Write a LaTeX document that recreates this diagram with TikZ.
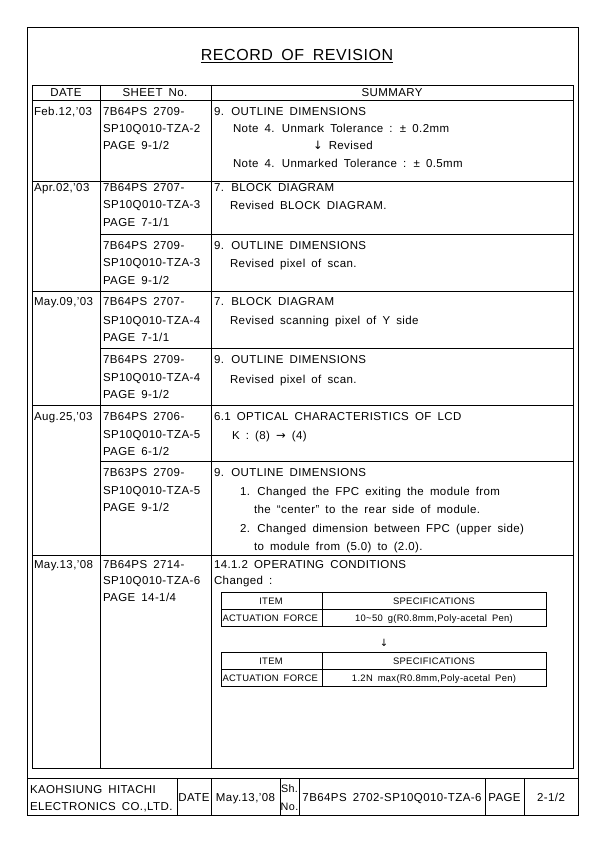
\documentclass[tikz,border=0pt]{standalone}
\usepackage{fontspec}
\setmainfont{Liberation Sans}[WordSpace=1.7,LetterSpace=3.5]
\newfontfamily\symfont{DejaVu Sans}
\begin{document}
\begin{tikzpicture}[x=1pt,y=-1pt,
  every node/.style={inner sep=0pt,outer sep=0pt},
  txt/.style={anchor=base west,font=\fontsize{11.5}{13}\selectfont},
  ctxt/.style={anchor=base,font=\fontsize{11.5}{13}\selectfont},
  fsmall/.style={anchor=base,font=\fontsize{10.8}{12}\selectfont},
  small/.style={anchor=base,font=\fontsize{9.4}{10}\selectfont},
  smallw/.style={anchor=base west,font=\fontsize{9.4}{10}\selectfont},
  rule/.style={draw=black,line width=0.6pt},
  frame/.style={draw=black,line width=0.8pt}]
\useasboundingbox (0,0) rectangle (595,842);
% frame and table
\draw[frame] (27,27) rectangle (578,815);
\draw[rule] (32,85) rectangle (573,768);
\draw[rule] (32,100) -- (573,100);
\draw[rule] (100,85) -- (100,768);
\draw[rule] (211,85) -- (211,768);
\foreach \yy in {181,291,405,555} \draw[rule] (32,\yy) -- (573,\yy);
\foreach \yy in {234,348,461} \draw[rule] (100,\yy) -- (573,\yy);
% footer
\draw[rule] (27,778) -- (578,778);
\foreach \xx in {177,211,280,299,485,524} \draw[rule] (\xx,778) -- (\xx,815);
% title
\node[anchor=base,font=\fontsize{16}{18}\selectfont] (title) at (297,61) {\underline{RECORD OF REVISION}};
% header
\node[ctxt] (hdate) at (66,96.5) {DATE};
\node[ctxt] (hsheet) at (155,96.5) {SHEET No.};
\node[ctxt] (hsum) at (392,96.5) {SUMMARY};
% row 1
\node[txt] (d1) at (34,116) {Feb.12,'03};
\node[txt] (s1a) at (103,116) {7B64PS 2709-};
\node[txt] (s1b) at (103,133) {SP10Q010-TZA-2};
\node[txt] (s1c) at (103,150) {PAGE 9-1/2};
\node[txt] (m1a) at (214,116) {9. OUTLINE DIMENSIONS};
\node[txt] (m1b) at (233,133) {Note 4. Unmark Tolerance : ± 0.2mm};
\node[txt] (m1c) at (313,150) {{\symfont ↓} Revised};
\node[txt] (m1d) at (233,168) {Note 4. Unmarked Tolerance : ± 0.5mm};
% row 2
\node[txt] (d2) at (34,192) {Apr.02,'03};
\node[txt] (s2a) at (103,192) {7B64PS 2707-};
\node[txt] (s2b) at (103,209) {SP10Q010-TZA-3};
\node[txt] (s2c) at (103,226) {PAGE 7-1/1};
\node[txt] (m2a) at (214,192) {7. BLOCK DIAGRAM};
\node[txt] (m2b) at (230,210) {Revised BLOCK DIAGRAM.};
\node[txt] (s3a) at (103,249) {7B64PS 2709-};
\node[txt] (s3b) at (103,266) {SP10Q010-TZA-3};
\node[txt] (s3c) at (103,284) {PAGE 9-1/2};
\node[txt] (m3a) at (214,249) {9. OUTLINE DIMENSIONS};
\node[txt] (m3b) at (230,267) {Revised pixel of scan.};
% row 3
\node[txt] (d3) at (34,305.5) {May.09,'03};
\node[txt] (s4a) at (103,305.5) {7B64PS 2707-};
\node[txt] (s4b) at (103,324) {SP10Q010-TZA-4};
\node[txt] (s4c) at (103,341) {PAGE 7-1/1};
\node[txt] (m4a) at (214,305.5) {7. BLOCK DIAGRAM};
\node[txt] (m4b) at (230,324.5) {Revised scanning pixel of Y side};
\node[txt] (s5a) at (103,363) {7B64PS 2709-};
\node[txt] (s5b) at (103,381) {SP10Q010-TZA-4};
\node[txt] (s5c) at (103,398) {PAGE 9-1/2};
\node[txt] (m5a) at (214,363) {9. OUTLINE DIMENSIONS};
\node[txt] (m5b) at (230,383) {Revised pixel of scan.};
% row 4
\node[txt] (d4) at (34,420) {Aug.25,'03};
\node[txt] (s6a) at (103,420) {7B64PS 2706-};
\node[txt] (s6b) at (103,438) {SP10Q010-TZA-5};
\node[txt] (s6c) at (103,455) {PAGE 6-1/2};
\node[txt] (m6a) at (214,420) {6.1 OPTICAL CHARACTERISTICS OF LCD};
\node[txt] (m6b) at (232,439) {K : (8) {\symfont →} (4)};
\node[txt] (s7a) at (103,476) {7B63PS 2709-};
\node[txt] (s7b) at (103,494) {SP10Q010-TZA-5};
\node[txt] (s7c) at (103,511) {PAGE 9-1/2};
\node[txt] (m7a) at (214,476) {9. OUTLINE DIMENSIONS};
\node[txt] (m7b) at (240,495) {1. Changed the FPC exiting the module from};
\node[txt] (m7c) at (254,513) {the “center” to the rear side of module.};
\node[txt] (m7d) at (240,532) {2. Changed dimension between FPC (upper side)};
\node[txt] (m7e) at (254,550) {to module from (5.0) to (2.0).};
% row 5
\node[txt] (d5) at (34,568) {May.13,'08};
\node[txt] (s8a) at (103,568) {7B64PS 2714-};
\node[txt] (s8b) at (103,584.5) {SP10Q010-TZA-6};
\node[txt] (s8c) at (103,601) {PAGE 14-1/4};
\node[txt] (m8a) at (214,568) {14.1.2 OPERATING CONDITIONS};
\node[txt] (m8b) at (214,584.5) {Changed :};
% inner table 1
\draw[rule] (221,592) rectangle (546,626);
\draw[rule] (221,609) -- (546,609);
\draw[rule] (322,592) -- (322,626);
\node[small] (t1h1) at (271,604.5) {ITEM};
\node[small] (t1h2) at (434,604.5) {SPECIFICATIONS};
\node[smallw] (t1c1) at (222.5,621.5) {ACTUATION FORCE};
\node[small] (t1c2) at (434,621.5) {10\textasciitilde 50 g(R0.8mm,Poly-acetal Pen)};
\node[anchor=base,font=\symfont\fontsize{10}{10}\selectfont] (arr) at (384,646) {↓};
% inner table 2
\draw[rule] (221,652) rectangle (546,686);
\draw[rule] (221,669) -- (546,669);
\draw[rule] (322,652) -- (322,686);
\node[small] (t2h1) at (271,664.5) {ITEM};
\node[small] (t2h2) at (434,664.5) {SPECIFICATIONS};
\node[smallw] (t2c1) at (222.5,681.5) {ACTUATION FORCE};
\node[small] (t2c2) at (434,681.5) {1.2N max(R0.8mm,Poly-acetal Pen)};
% footer text
\node[txt] (f1a) at (30,793) {KAOHSIUNG HITACHI};
\node[txt] (f1b) at (30,810.5) {ELECTRONICS CO.,LTD.};
\node[ctxt] (f2) at (194,801.5) {DATE};
\node[ctxt] (f3) at (245.5,801.5) {May.13,'08};
\node[fsmall] (f4a) at (289.5,792.5) {Sh.};
\node[fsmall] (f4b) at (289.5,810.5) {No.};
\node[ctxt] (f5) at (392,801.5) {7B64PS 2702-SP10Q010-TZA-6};
\node[ctxt] (f6) at (504.5,801.5) {PAGE};
\node[ctxt] (f7) at (551,801.5) {2-1/2};
\end{tikzpicture}
\end{document}
